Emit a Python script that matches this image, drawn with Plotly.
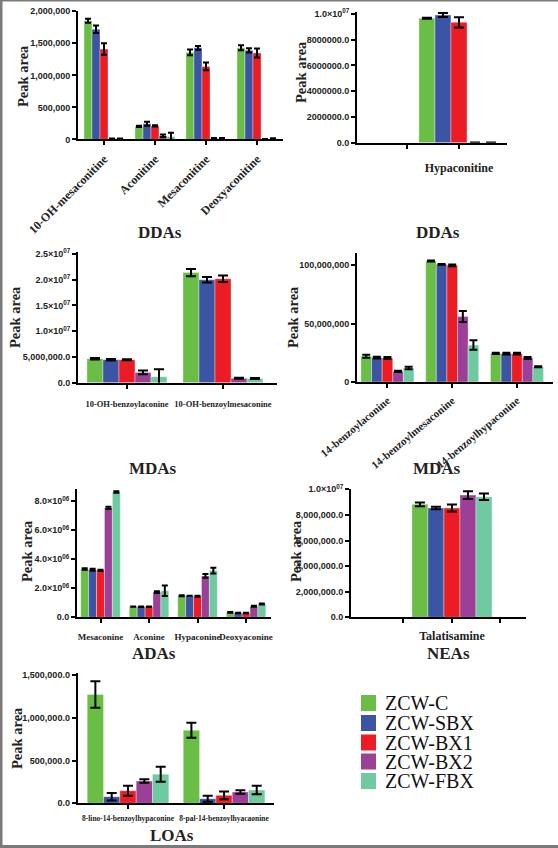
import plotly.graph_objects as go

W, H = 558, 848

series = ["ZCW-C", "ZCW-SBX", "ZCW-BX1", "ZCW-BX2", "ZCW-FBX"]
colors = ["#6abd45", "#3b54a4", "#ec1c24", "#9c3f97", "#6fcaa1"]

# ---- Panel 1: DDAs ----
p1_categories = ["10-OH-mesaconitine", "Aconitine", "Mesaconitine", "Deoxyaconitine"]
p1_values = [
    [1.853e6, 0.205e6, 1.36e6, 1.43e6],
    [1.72e6, 0.245e6, 1.43e6, 1.39e6],
    [1.41e6, 0.21e6, 1.14e6, 1.35e6],
    [0.01e6, 0.058e6, 0.015e6, 0.005e6],
    [0.01e6, 0.045e6, 0.015e6, 0.012e6],
]
p1_errors = [
    [0.03e6, 0.01e6, 0.045e6, 0.04e6],
    [0.06e6, 0.03e6, 0.03e6, 0.035e6],
    [0.09e6, 0.01e6, 0.06e6, 0.07e6],
    [0.005e6, 0.02e6, 0.005e6, 0.003e6],
    [0.005e6, 0.06e6, 0.005e6, 0.005e6],
]
p1_yticks = [0, 0.5e6, 1.0e6, 1.5e6, 2.0e6]
p1_yticktext = ["0", "500,000", "1,000,000", "1,500,000", "2,000,000"]

# ---- Panel 2: DDAs (Hypaconitine) ----
p2_categories = [" ", "Hypaconitine"]
p2_values = [
    [None, 9.67e6],
    [None, 9.92e6],
    [None, 9.35e6],
    [None, 0.02e6],
    [None, 0.02e6],
]
p2_errors = [
    [0, 0.04e6],
    [0, 0.15e6],
    [0, 0.39e6],
    [0, 0.0],
    [0, 0.0],
]
p2_yticks = [0, 2e6, 4e6, 6e6, 8e6, 1e7]
p2_yticktext = ["0.0", "2000000.0", "4000000.0", "6000000.0", "8000000.0", "1.0×10<sup>07</sup>"]

# ---- Panel 3: MDAs ----
p3_categories = ["10-OH-benzoylaconine", "10-OH-benzoylmesaconine"]
p3_values = [
    [4.66e6, 21.4e6],
    [4.47e6, 20.0e6],
    [4.47e6, 20.2e6],
    [2.0e6, 0.85e6],
    [1.17e6, 0.8e6],
]
p3_errors = [
    [0.15e6, 0.7e6],
    [0.15e6, 0.55e6],
    [0.1e6, 0.65e6],
    [0.35e6, 0.1e6],
    [1.45e6, 0.1e6],
]
p3_yticks = [0, 5e6, 1e7, 1.5e7, 2e7, 2.5e7]
p3_yticktext = ["0.0", "5,000,000.0", "1.0×10<sup>07</sup>", "1.5×10<sup>07</sup>",
                "2.0×10<sup>07</sup>", "2.5×10<sup>07</sup>"]

# ---- Panel 4: MDAs ----
p4_categories = ["14-benzoylaconine", "14-benzoylmesaconine", "14-benzoylhypaconine"]
p4_values = [
    [22e6, 103.4e6, 24.5e6],
    [20.8e6, 100.6e6, 24.2e6],
    [20.5e6, 99.7e6, 24.2e6],
    [9.1e6, 56e6, 20.5e6],
    [12e6, 31.6e6, 13e6],
]
p4_errors = [
    [1.2e6, 0.5e6, 0.5e6],
    [0.8e6, 0.3e6, 0.8e6],
    [0.8e6, 0.8e6, 0.8e6],
    [0.5e6, 4.7e6, 0.8e6],
    [1.0e6, 4.0e6, 0.5e6],
]
p4_yticks = [0, 5e7, 1e8]
p4_yticktext = ["0", "50,000,000", "100,000,000"]

# ---- Panel 5: ADAs ----
p5_categories = ["Mesaconine", "Aconine", "Hypaconine", "Deoxyaconine"]
p5_values = [
    [3.33e6, 0.73e6, 1.49e6, 0.34e6],
    [3.28e6, 0.73e6, 1.49e6, 0.30e6],
    [3.24e6, 0.73e6, 1.45e6, 0.30e6],
    [7.55e6, 1.74e6, 2.85e6, 0.76e6],
    [8.65e6, 1.83e6, 3.22e6, 0.92e6],
]
p5_errors = [
    [0.05e6, 0.01e6, 0.03e6, 0.03e6],
    [0.07e6, 0.02e6, 0.0, 0.02e6],
    [0.04e6, 0.02e6, 0.04e6, 0.02e6],
    [0.08e6, 0.06e6, 0.13e6, 0.04e6],
    [0.05e6, 0.36e6, 0.2e6, 0.04e6],
]
p5_yticks = [0, 2e6, 4e6, 6e6, 8e6]
p5_yticktext = ["0.0", "2.0×10<sup>06</sup>", "4.0×10<sup>06</sup>", "6.0×10<sup>06</sup>",
                "8.0×10<sup>06</sup>"]

# ---- Panel 6: NEAs ----
p6_categories = [" ", "Talatisamine", " "]
p6_values = [
    [None, 8.83e6, None],
    [None, 8.54e6, None],
    [None, 8.54e6, None],
    [None, 9.55e6, None],
    [None, 9.42e6, None],
]
p6_errors = [
    [0, 0.15e6, 0],
    [0, 0.1e6, 0],
    [0, 0.27e6, 0],
    [0, 0.31e6, 0],
    [0, 0.25e6, 0],
]
p6_yticks = [0, 2e6, 4e6, 6e6, 8e6, 1e7]
p6_yticktext = ["0.0", "2,000,000.0", "4,000,000.0", "6,000,000.0", "8,000,000.0",
                "1.0×10<sup>07</sup>"]

# ---- Panel 7: LOAs ----
p7_categories = ["8-lino-14-benzoylhypaconine", "8-pal-14-benzoylhyacaonine"]
p7_values = [
    [1.273e6, 0.853e6],
    [0.077e6, 0.054e6],
    [0.147e6, 0.093e6],
    [0.26e6, 0.132e6],
    [0.34e6, 0.155e6],
]
p7_errors = [
    [0.155e6, 0.088e6],
    [0.043e6, 0.035e6],
    [0.058e6, 0.045e6],
    [0.02e6, 0.02e6],
    [0.088e6, 0.05e6],
]
p7_yticks = [0, 0.5e6, 1.0e6, 1.5e6]
p7_yticktext = ["0.0", "500,000.0", "1,000,000.0", "1,500,000.0"]

group_titles = ["DDAs", "DDAs", "MDAs", "MDAs", "ADAs", "NEAs", "LOAs"]

SERIF = "Liberation Serif"
SANS = "Liberation Sans"

panels = [
    dict(cats=p1_categories, vals=p1_values, errs=p1_errors, yt=p1_yticks, ytt=p1_yticktext,
         px=(78, 283), py=(11.3, 139.4), ytop=2.0e6, xr=(-0.51, 3.51), w=0.157,
         xfont=12, angle=-45, cap=3, so=2),
    dict(cats=p2_categories, vals=p2_values, errs=p2_errors, yt=p2_yticks, ytt=p2_yticktext,
         px=(357, 507), py=(12, 142.7), ytop=1.0155e7, xr=(-0.96, 1.923), w=0.308,
         xfont=12, angle=0, cap=5, so=9),
    dict(cats=p3_categories, vals=p3_values, errs=p3_errors, yt=p3_yticks, ytt=p3_yticktext,
         px=(78, 277), py=(251.7, 382.7), ytop=2.545e7, xr=(-0.51, 1.5625), w=0.1667,
         xfont=8.5, angle=0, cap=5, so=8),
    dict(cats=p4_categories, vals=p4_values, errs=p4_errors, yt=p4_yticks, ytt=p4_yticktext,
         px=(357, 553), py=(253.3, 382), ytop=1.1e8, xr=(-0.47, 2.556), w=0.1637,
         xfont=11, angle=-40, cap=4, so=2),
    dict(cats=p5_categories, vals=p5_values, errs=p5_errors, yt=p5_yticks, ytt=p5_yticktext,
         px=(77, 271), py=(489.3, 617.3), ytop=8.83e6, xr=(-0.485, 3.515), w=0.163,
         xfont=9, angle=0, cap=3, so=6),
    dict(cats=p6_categories, vals=p6_values, errs=p6_errors, yt=p6_yticks, ytt=p6_yticktext,
         px=(351, 526), py=(488.7, 617.3), ytop=1.005e7, xr=(-1.08, 2.526), w=0.33,
         xfont=12, angle=0, cap=5, so=2),
    dict(cats=p7_categories, vals=p7_values, errs=p7_errors, yt=p7_yticks, ytt=p7_yticktext,
         px=(77.7, 274), py=(673.3, 803.3), ytop=1.52e6, xr=(-0.524, 1.52), w=0.17,
         xfont=7.5, angle=0, cap=5, so=3),
]

fig = go.Figure()
layout_axes = {}

for k, p in enumerate(panels):
    n = k + 1
    xa = "x" if n == 1 else f"x{n}"
    ya = "y" if n == 1 else f"y{n}"
    xkey = "xaxis" if n == 1 else f"xaxis{n}"
    ykey = "yaxis" if n == 1 else f"yaxis{n}"
    positions = list(range(len(p["cats"])))
    for i, s in enumerate(series):
        xs = [c + (i - 2) * p["w"] for c in positions]
        fig.add_trace(go.Bar(
            x=xs, y=p["vals"][i], width=p["w"], name=s,
            marker=dict(color=colors[i], line=dict(width=0.5, color="rgba(255,255,255,0.7)")),
            error_y=dict(type="data", array=p["errs"][i], color="black",
                         thickness=2, width=p["cap"]),
            xaxis=xa, yaxis=ya, showlegend=False, hoverinfo="skip",
        ))
    layout_axes[xkey] = dict(
        domain=[p["px"][0] / W, p["px"][1] / W], anchor=ya, range=list(p["xr"]),
        tickmode="array", tickvals=positions, ticktext=p["cats"],
        tickangle=p["angle"], showgrid=False, zeroline=False, automargin=False,
        showline=True, linecolor="black", linewidth=2,
        ticks="outside", ticklen=4, tickwidth=2, tickcolor="black",
        tickfont=dict(family=SERIF, size=p["xfont"], color="#222", weight="bold"),
        ticklabelstandoff=p["so"], fixedrange=True,
    )
    layout_axes[ykey] = dict(
        domain=[1 - p["py"][1] / H, 1 - p["py"][0] / H], anchor=xa,
        range=[0, p["ytop"]], tickmode="array", tickvals=p["yt"], ticktext=p["ytt"],
        showgrid=False, zeroline=False, showline=True, linecolor="black", linewidth=2,
        automargin=False, fixedrange=True,
        ticks="outside", ticklen=4, tickwidth=2, tickcolor="black",
        tickfont=dict(family=SANS, size=9, color="#222", weight="bold"),
    )

annotations = []
ytitle_pos = [(23, 76), (301, 72), (15, 317), (293, 317), (27, 551), (296, 551), (17, 738)]
for (ax, ay) in ytitle_pos:
    annotations.append(dict(text="Peak area", x=ax / W, y=1 - ay / H, xref="paper", yref="paper",
                            textangle=-90, showarrow=False, xanchor="center", yanchor="middle",
                            font=dict(family=SERIF, size=14.5, color="#222", weight="bold")))
gtitle_pos = [(160, 232), (438, 232), (153, 468), (437, 468), (154, 653), (448, 653), (172, 835)]
for t, (gx, gy) in zip(group_titles, gtitle_pos):
    annotations.append(dict(text=t, x=gx / W, y=1 - gy / H, xref="paper", yref="paper",
                            showarrow=False, xanchor="center", yanchor="middle",
                            font=dict(family=SERIF, size=17, color="#222", weight="bold")))

shapes = []
row_centers = [703, 723, 742.5, 761.5, 781]
for s, c, rc in zip(series, colors, row_centers):
    shapes.append(dict(type="rect", xref="paper", yref="paper",
                       x0=361 / W, x1=376 / W, y0=1 - (rc + 8) / H, y1=1 - (rc - 8) / H,
                       fillcolor=c, line=dict(width=0)))
    annotations.append(dict(text=s, x=383 / W, y=1 - rc / H, xref="paper", yref="paper",
                            showarrow=False, xanchor="left", yanchor="middle",
                            font=dict(family=SERIF, size=20, color="#111")))

frame = "#7a7a7a"
shapes.append(dict(type="line", xref="paper", yref="paper", x0=0, x1=1, y0=1 - 0.5 / H, y1=1 - 0.5 / H,
                   line=dict(color=frame, width=2)))
shapes.append(dict(type="line", xref="paper", yref="paper", x0=1 / W, x1=1 / W, y0=0, y1=1,
                   line=dict(color=frame, width=3)))
shapes.append(dict(type="line", xref="paper", yref="paper", x0=0, x1=1, y0=1.5 / H, y1=1.5 / H,
                   line=dict(color=frame, width=3)))

fig.update_layout(
    template="none",
    width=W, height=H, margin=dict(l=0, r=0, t=0, b=0, pad=0, autoexpand=False),
    paper_bgcolor="white", plot_bgcolor="rgba(0,0,0,0)",
    barmode="overlay", showlegend=False, hovermode=False,
    annotations=annotations, shapes=shapes,
    **layout_axes,
)

fig.write_html("out.html",
               config={"displayModeBar": False, "staticPlot": True},
               post_script="document.body.style.margin='0';document.body.style.overflow='hidden';")
